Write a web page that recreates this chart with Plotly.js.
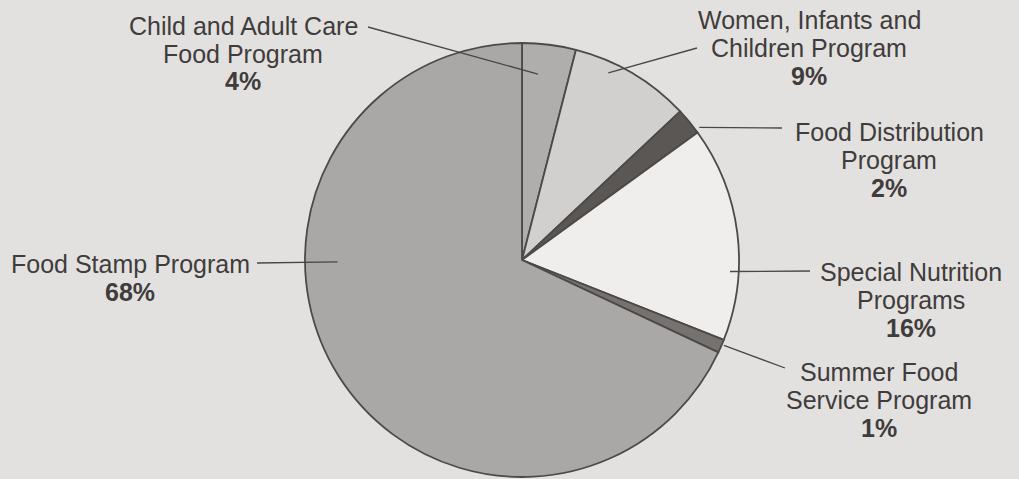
<!DOCTYPE html>
<html>
<head>
<meta charset="utf-8">
<script src="https://cdn.plot.ly/plotly-3.0.1.min.js"></script>
<style>
  html, body { margin: 0; padding: 0; background: #e3e1df; }
  #chart { width: 1019px; height: 479px; }
</style>
</head>
<body>
<div id="chart"></div>
<script>
// ---- Data ----
const categories = [
  'Child and Adult Care Food Program',
  'Women, Infants and Children Program',
  'Food Distribution Program',
  'Special Nutrition Programs',
  'Summer Food Service Program',
  'Food Stamp Program'
];
const labelLines = [
  ['Child and Adult Care', 'Food Program'],
  ['Women, Infants and', 'Children Program'],
  ['Food Distribution', 'Program'],
  ['Special Nutrition', 'Programs'],
  ['Summer Food', 'Service Program'],
  ['Food Stamp Program']
];
const shares = [4, 9, 2, 16, 1, 68];

// ---- Styles / layout ----
const sliceColors = ['#b0aeac', '#d2d0ce', '#5b5755', '#efeeec', '#767270', '#aaa8a6'];
const W = 1019, H = 479;
const cx = 522, cy = 260, R = 217;           // pie centre and radius in px
const lineGap = 28;                          // px between label lines
// label placement (px, first-line centre) and leader geometry:
// t = position within slice span, r = radius fraction
const labelCfg = [
  { x: 243, y: 24.5, sx: 368, sy: 27,  t: 0.34, r: 0.86 },
  { x: 809, y: 19,   sx: 697, sy: 48,  t: 0.32, r: 0.95 },
  { x: 889, y: 131,  sx: 782, sy: 128, t: 0.89, r: 1.02 },
  { x: 911, y: 271,  sx: 810, sy: 271, t: 0.68, r: 0.96 },
  { x: 879, y: 370.5, sx: 785, sy: 368, t: 0.36, r: 1.01 },
  { x: 130, y: 263,  sx: 257, sy: 263, t: 0.63, r: 0.85 }
];
const textFont = { family: 'Liberation Sans, Arial, sans-serif', size: 25, color: '#403c3b' };
const yShift = 1;  // cap-centre vs text-box centre correction

const px = v => v / W;
const py = v => 1 - v / H;

const total = shares.reduce((a, b) => a + b, 0);
let cum = 0;
const annotations = [];
const shapes = [];
shares.forEach((v, i) => {
  const c = labelCfg[i];
  const ang = (cum + c.t * v) / total * 2 * Math.PI;
  const ex = cx + c.r * R * Math.sin(ang);
  const ey = cy - c.r * R * Math.cos(ang);
  cum += v;
  shapes.push({
    type: 'line', xref: 'paper', yref: 'paper',
    x0: px(c.sx), y0: py(c.sy), x1: px(ex), y1: py(ey),
    line: { color: '#4a4644', width: 1.3 }
  });
  const lines = labelLines[i].concat(['<b>' + v + '%</b>']);
  lines.forEach((txt, k) => {
    annotations.push({
      xref: 'paper', yref: 'paper', x: px(c.x), y: py(c.y + k * lineGap + yShift),
      xanchor: 'center', yanchor: 'middle', showarrow: false, align: 'center',
      text: txt, font: textFont
    });
  });
});

const trace = {
  type: 'pie',
  labels: categories,
  values: shares,
  sort: false,
  direction: 'clockwise',
  rotation: 0,
  textinfo: 'none',
  hoverinfo: 'none',
  showlegend: false,
  marker: { colors: sliceColors, line: { color: '#4d4947', width: 1.8 } },
  domain: { x: [px(cx - R), px(cx + R)], y: [py(cy + R), py(cy - R)] }
};

const layout = {
  width: W, height: H,
  margin: { l: 0, r: 0, t: 0, b: 0 },
  paper_bgcolor: '#e3e1df',
  plot_bgcolor: '#e3e1df',
  showlegend: false,
  annotations: annotations,
  shapes: shapes
};

Plotly.newPlot('chart', [trace], layout, { staticPlot: true, displayModeBar: false });
</script>
</body>
</html>
